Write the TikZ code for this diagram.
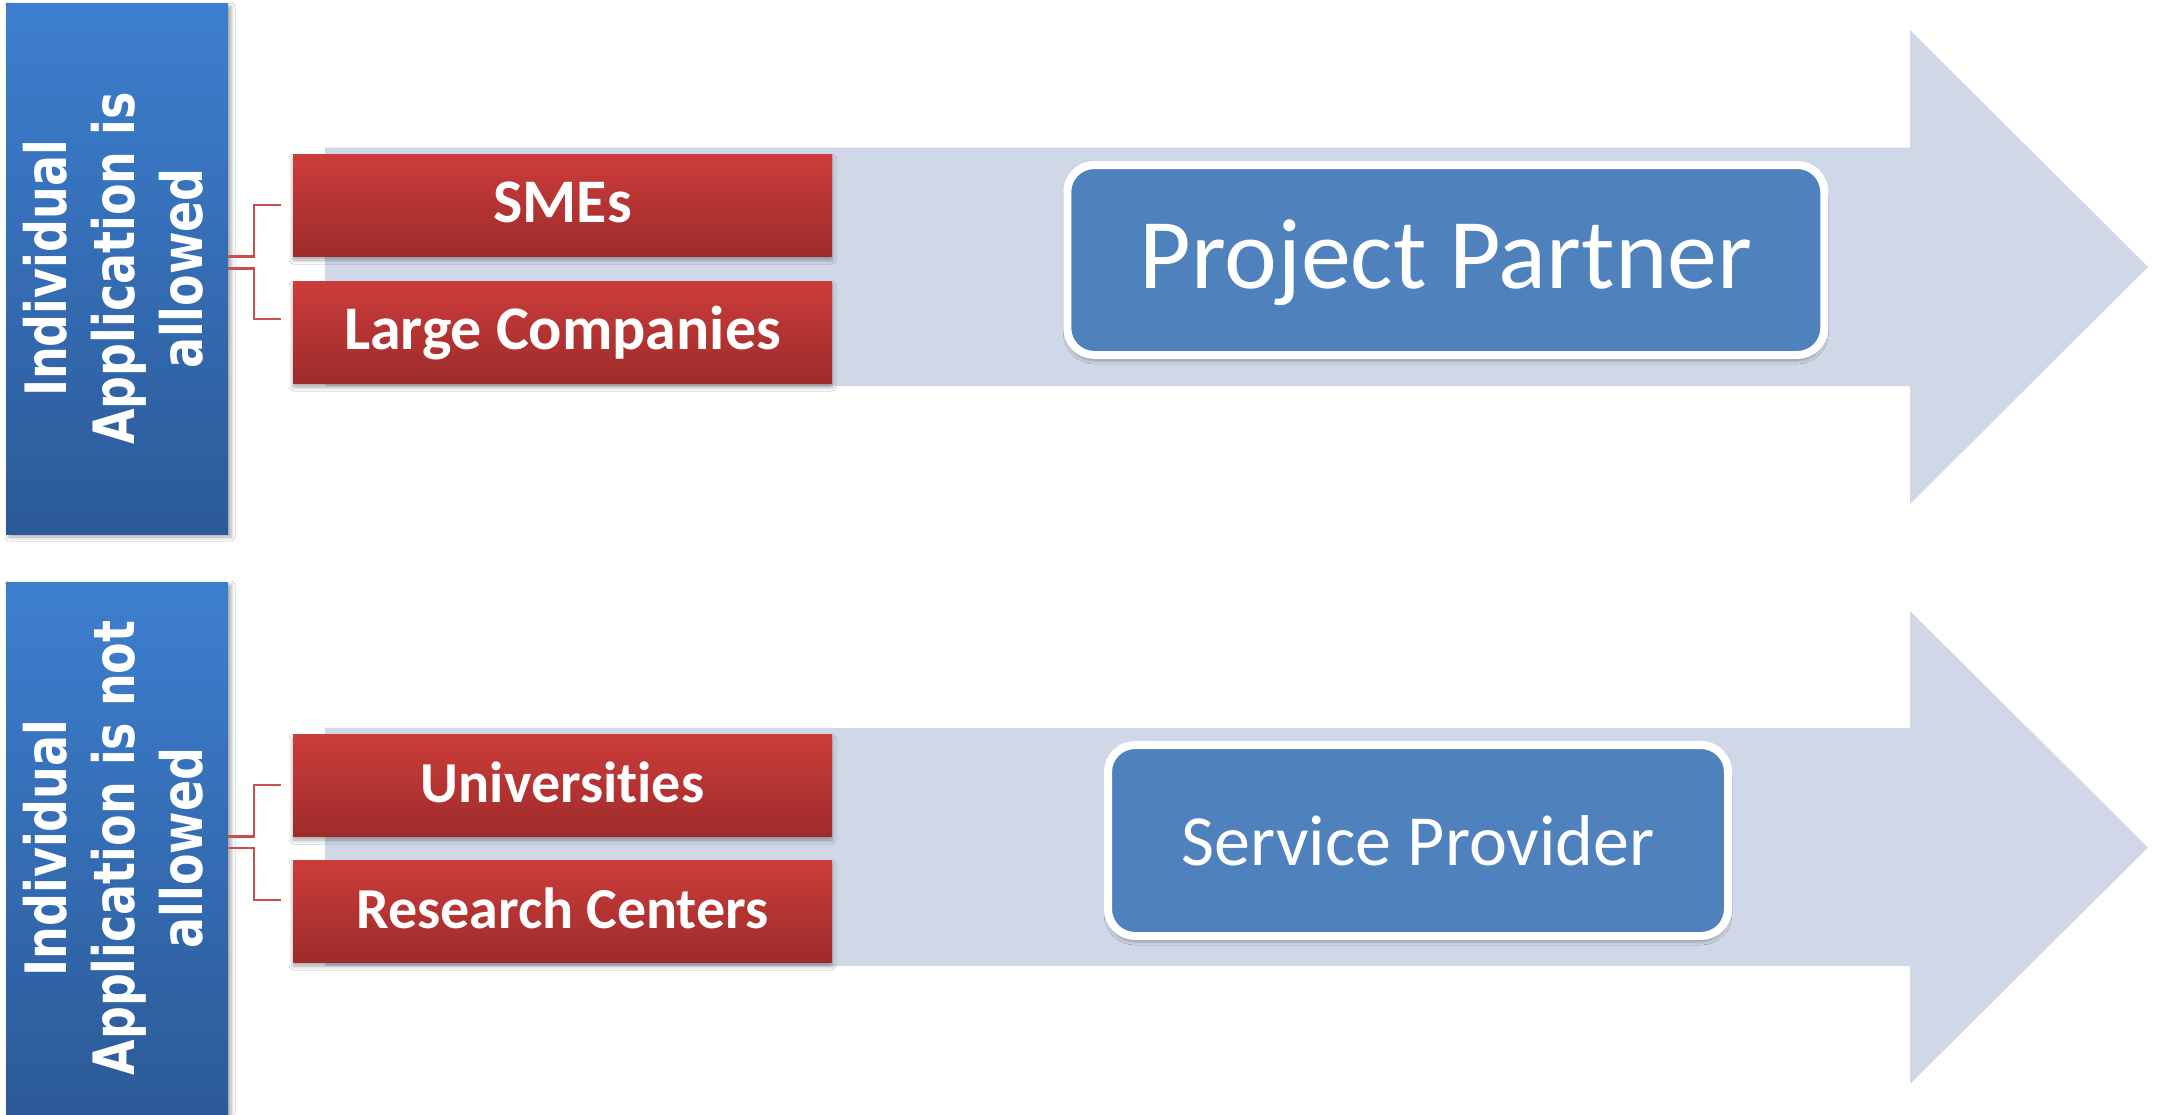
\documentclass[tikz,border=0pt]{standalone}
\usepackage{fontspec}
\newfontfamily\carlito[Ligatures=NoCommon]{Carlito}
\newfontfamily\dejavu{DejaVu Sans}
\usetikzlibrary{calc,shadows.blur}
\definecolor{arrowfill}{RGB}{208,216,232}
\definecolor{redtop}{RGB}{203,61,58}
\definecolor{redbot}{RGB}{158,43,43}
\definecolor{sidetop}{RGB}{61,127,207}
\definecolor{sidebot}{RGB}{44,90,152}
\definecolor{pblue}{RGB}{79,129,189}
\definecolor{connred}{RGB}{200,78,76}
\begin{document}
\begin{tikzpicture}[x=1pt,y=-1pt,
  every node/.style={outer sep=0pt},
  bigarrow/.style={fill=arrowfill},
  sidebox/.style={top color=sidetop, bottom color=sidebot, minimum width=222pt, inner sep=0pt,
    blur shadow={shadow xshift=3pt, shadow yshift=-3pt, shadow blur radius=4pt, shadow opacity=35}},
  sidetext/.style={rotate=90, inner sep=0pt, text=white, font=\dejavu\bfseries\fontsize{46}{55}\selectfont},
  redbox/.style={top color=redtop, bottom color=redbot, minimum width=539pt, minimum height=102pt, inner sep=0pt,
    text=white, font=\carlito\bfseries\fontsize{62}{74}\selectfont, text height=39pt, text depth=4pt,
    blur shadow={shadow xshift=0pt, shadow yshift=-4pt, shadow blur radius=4pt, shadow opacity=35}},
  smallred/.style={font=\carlito\bfseries\fontsize{58}{70}\selectfont, text height=37pt, text depth=3pt},
  rolebox/.style={draw=white, line width=8pt, fill=pblue, rounded corners=27pt, inner sep=0pt, text=white,
    font=\carlito,
    blur shadow={shadow xshift=0pt, shadow yshift=-5pt, shadow blur radius=4pt, shadow opacity=40}},
  conn/.style={draw=connred, line width=2.5pt}
]
\useasboundingbox[fill=white] (0,0) rectangle (2163,1114);

% big arrows
\fill[bigarrow] (325,147.5) -- (1910,147.5) -- (1910,30) -- (2148,267) -- (1910,504) -- (1910,386) -- (325,386) -- cycle;
\fill[bigarrow] (325,728) -- (1910,728) -- (1910,611) -- (2148,847.5) -- (1910,1084) -- (1910,966) -- (325,966) -- cycle;

% red boxes
\node[redbox] (r1) at (562.5,205) {SMEs};
\node[redbox] (r2) at (562.5,332) {Large Companies};
\node[redbox, smallred] (r3) at (562.5,785) {Universities};
\node[redbox, smallred] (r4) at (562.5,911) {Research Centers};

% role boxes
\node[rolebox, minimum width=757pt, minimum height=190pt, text height=63pt, text depth=7pt,
  font=\carlito\fontsize{100}{120}\selectfont] (pp) at (1445.8,260) {Project Partner};
\node[rolebox, minimum width=620pt, minimum height=191pt, text height=52pt, text depth=3pt,
  font=\carlito\fontsize{72}{86}\selectfont] (sp) at (1418,840.5) {Service Provider};

% side boxes
\node[sidebox, minimum height=531pt] (b1) at (117,268.5) {};
\node[sidebox, minimum height=532pt] (b2) at (117,848) {};
\node[sidetext] (t1) at (121,268.5) {\scalebox{1}[1.24]{\begin{tabular}{@{}c@{}}Individual\\Application is\\allowed\end{tabular}}};
\node[sidetext] (t2) at (121,848) {\scalebox{1}[1.24]{\begin{tabular}{@{}c@{}}Individual\\Application is not\\allowed\end{tabular}}};

% connectors
\draw[conn] ([yshift=12pt]b1.east) -| ($(r1.west)+(-39,0)$) -- ($(r1.west)+(-12,0)$);
\draw[conn] (b1.east) -| ($(r2.west)+(-39,-13)$) -- ($(r2.west)+(-12,-13)$);
\draw[conn] ([yshift=11.5pt]b2.east) -| ($(r3.west)+(-39,0)$) -- ($(r3.west)+(-12,0)$);
\draw[conn] (b2.east) -| ($(r4.west)+(-39,-11)$) -- ($(r4.west)+(-12,-11)$);
\end{tikzpicture}
\end{document}
